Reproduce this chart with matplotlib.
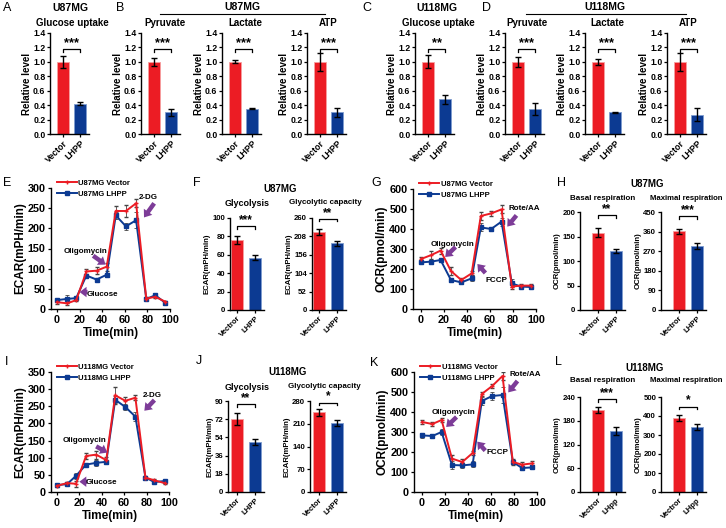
import numpy as np
import matplotlib
matplotlib.use("Agg")
import matplotlib.pyplot as plt

plt.rcParams['font.family'] = ['Liberation Sans', 'DejaVu Sans']
plt.rcParams['font.weight'] = 'bold'
plt.rcParams['axes.labelweight'] = 'bold'
plt.rcParams['axes.linewidth'] = 1.0

W, H = 726, 528
RED = '#EC1C24'
BLUE = '#0C3A92'
PURPLE = '#7D3C98'

# ---- data: top row (relative level) ----
top_labels = ['Vector', 'LHPP']
a_vals, a_errs = [1.0, 0.42], [0.08, 0.02]
b_pyr_vals, b_pyr_errs = [1.0, 0.30], [0.06, 0.05]
b_lac_vals, b_lac_errs = [1.0, 0.35], [0.02, 0.01]
b_atp_vals, b_atp_errs = [1.0, 0.30], [0.12, 0.06]
c_vals, c_errs = [1.0, 0.48], [0.09, 0.06]
d_pyr_vals, d_pyr_errs = [1.0, 0.35], [0.07, 0.08]
d_lac_vals, d_lac_errs = [1.0, 0.30], [0.04, 0.01]
d_atp_vals, d_atp_errs = [1.0, 0.27], [0.12, 0.09]
rel_ticks = [0.0, 0.2, 0.4, 0.6, 0.8, 1.0, 1.2, 1.4]

# ---- data: seahorse time courses ----
t = [0, 9, 17, 26, 35, 44, 52, 61, 70, 79, 87, 96]
e_vec = [17, 14, 22, 93, 95, 105, 243, 243, 262, 26, 30, 18]
e_vec_err = [4, 3, 3, 6, 8, 10, 12, 15, 10, 3, 3, 3]
e_lhpp = [22, 25, 27, 83, 73, 85, 232, 205, 220, 25, 34, 15]
e_lhpp_err = [4, 10, 3, 4, 3, 5, 8, 8, 20, 3, 3, 5]

g_vec = [250, 270, 292, 190, 145, 178, 465, 478, 498, 112, 117, 117]
g_vec_err = [8, 18, 15, 22, 10, 10, 18, 12, 20, 10, 6, 8]
g_lhpp = [233, 237, 245, 145, 133, 153, 408, 400, 437, 128, 112, 110]
g_lhpp_err = [5, 5, 8, 12, 10, 15, 20, 10, 20, 20, 5, 5]

i_vec = [18, 26, 24, 105, 109, 93, 282, 266, 275, 42, 34, 26]
i_vec_err = [3, 4, 8, 10, 12, 8, 25, 12, 8, 5, 5, 4]
i_lhpp = [20, 23, 47, 80, 85, 88, 269, 248, 220, 42, 29, 32]
i_lhpp_err = [2, 4, 8, 5, 8, 5, 10, 10, 12, 5, 4, 4]

k_vec = [350, 340, 360, 167, 150, 195, 490, 530, 580, 150, 137, 143]
k_vec_err = [10, 12, 10, 20, 15, 10, 8, 8, 20, 15, 15, 10]
k_lhpp = [283, 280, 300, 135, 133, 138, 455, 480, 485, 150, 120, 123]
k_lhpp_err = [12, 12, 15, 18, 12, 15, 20, 20, 40, 10, 8, 8]

# ---- data: summary bars ----
f_gly_vals, f_gly_errs = [76, 57], [4, 3]
f_cap_vals, f_cap_errs = [220, 188], [8, 8]
h_bas_vals, h_bas_errs = [158, 120], [10, 4]
h_max_vals, h_max_errs = [362, 295], [12, 14]
j_gly_vals, j_gly_errs = [72, 49], [6, 3]
j_cap_vals, j_cap_errs = [245, 213], [10, 10]
l_bas_vals, l_bas_errs = [207, 155], [8, 10]
l_max_vals, l_max_errs = [390, 342], [15, 15]

fig = plt.figure(figsize=(W / 100, H / 100), dpi=100)


def add_ax(x0, y0, x1, y1):
    ax = fig.add_axes([x0 / W, 1 - y1 / H, (x1 - x0) / W, (y1 - y0) / H])
    ax.spines['top'].set_visible(False)
    ax.spines['right'].set_visible(False)
    return ax


def ftext(x, y, s, size=6.5, **kw):
    fig.text(x / W, 1 - y / H, s, fontsize=size, ha=kw.pop('ha', 'center'),
             va=kw.pop('va', 'center'), **kw)


def bar_panel(ax, vals, errs, labels, ylim, yticks, stars, yb, xl, fs, ylabel, lfs=None):
    ax.bar([0, 1], vals, width=0.7, color=[RED, BLUE],
           edgecolor=['#F7A0A0', '#7F9CD0'], linewidth=0.6)
    ax.errorbar([0, 1], vals, yerr=errs, fmt='none', ecolor='black',
                elinewidth=1.0, capsize=2.4, capthick=1.0)
    ax.set_xlim(xl, 1.5)
    ax.set_ylim(*ylim)
    ax.set_yticks(yticks)
    ax.set_xticks([0, 1])
    ax.set_xticklabels(labels, rotation=45, ha='right', rotation_mode='anchor')
    ax.tick_params(labelsize=fs, length=2.5, width=0.9, pad=1)
    ax.set_ylabel(ylabel, fontsize=lfs or fs, labelpad=1)
    span = ylim[1] - ylim[0]
    d = span * 0.03
    ax.plot([0, 0, 1, 1], [yb - d, yb, yb, yb - d], color='black', lw=0.9,
            clip_on=False)
    ax.text(0.5, yb, stars, ha='center', va='bottom',
            fontsize=fs + 3, clip_on=False)


# ---------------- top row ----------------
top_specs = [
    (63, a_vals, a_errs, '***'),
    (154, b_pyr_vals, b_pyr_errs, '***'),
    (235, b_lac_vals, b_lac_errs, '***'),
    (320, b_atp_vals, b_atp_errs, '***'),
    (428, c_vals, c_errs, '**'),
    (518, d_pyr_vals, d_pyr_errs, '***'),
    (598, d_lac_vals, d_lac_errs, '***'),
    (680, d_atp_vals, d_atp_errs, '***'),
]
for cx, v, e, s in top_specs:
    ax = add_ax(cx - 0.75 * 17, 33, cx + 1.5 * 17, 134)
    bar_panel(ax, v, e, top_labels, (0, 1.4), rel_ticks, s, 1.18, -0.75, 6.3,
              'Relative level', 7)
    ax.yaxis.set_major_formatter(matplotlib.ticker.FormatStrFormatter('%.1f'))

for x, s in [(7, 'A'), (120, 'B'), (367, 'C'), (487, 'D')]:
    ftext(x, 8, s, size=9, weight='normal')
ftext(70, 8, 'U87MG', 7.5)
ftext(72, 23, 'Glucose uptake', 7)
ftext(242, 7, 'U87MG', 7.5)
fig.add_artist(plt.Line2D([160 / W, 325 / W], [1 - 14 / H] * 2, color='black', lw=0.8))
ftext(165, 23, 'Pyruvate', 7)
ftext(245, 23, 'Lactate', 7)
ftext(328, 23, 'ATP', 7)
ftext(437, 8, 'U118MG', 7.5)
ftext(438, 23, 'Glucose uptake', 7)
ftext(605, 7, 'U118MG', 7.5)
fig.add_artist(plt.Line2D([526 / W, 686 / W], [1 - 14 / H] * 2, color='black', lw=0.8))
ftext(527, 23, 'Pyruvate', 7)
ftext(607, 23, 'Lactate', 7)
ftext(688, 23, 'ATP', 7)


# ---------------- time course panels ----------------
def line_panel(ax, vec, vec_err, lhpp, lhpp_err, names, ylim, yticks, ylabel, xl):
    ax.errorbar(t, lhpp, yerr=lhpp_err, color=BLUE, ecolor='#444444', lw=1.4,
                marker='s', ms=2.2, elinewidth=0.6, capsize=1.4, capthick=0.6)
    ax.errorbar(t, vec, yerr=vec_err, color=RED, ecolor='#444444', lw=1.4,
                marker='+', ms=3.5, mew=1.0, elinewidth=0.6, capsize=1.4, capthick=0.6)
    h1, = ax.plot([], [], color=RED, lw=1.4, marker='+', ms=3.5, mew=1.0)
    h2, = ax.plot([], [], color=BLUE, lw=1.4, marker='s', ms=2.2)
    ax.legend([h1, h2], names, loc='upper left', bbox_to_anchor=(0.05, 1.07),
              frameon=False, fontsize=5.5, handlelength=2.6, handletextpad=0.2,
              labelspacing=0.45, borderpad=0, borderaxespad=0)
    ax.set_xlim(xl, 100)
    ax.set_ylim(*ylim)
    ax.set_xticks([0, 20, 40, 60, 80, 100])
    ax.set_yticks(yticks)
    ax.tick_params(labelsize=7.8, length=2.5, width=0.9, pad=1.5)
    ax.set_ylabel(ylabel, fontsize=8.5, labelpad=1)
    ax.set_xlabel('Time(min)', fontsize=8.5, labelpad=2)


def arrow(ax, tail, head, text=None, tpos=None, ha='center'):
    ax.annotate('', xy=head, xytext=tail,
                arrowprops=dict(arrowstyle='simple,head_length=0.5,head_width=0.75,tail_width=0.32',
                                color=PURPLE, lw=0, shrinkA=0, shrinkB=0))
    if text:
        ax.text(tpos[0], tpos[1], text, fontsize=5.8, ha=ha, va='center')


ecar_ticks = [0, 50, 100, 150, 200, 250, 300]
ax = add_ax(51, 188, 170, 309)
line_panel(ax, e_vec, e_vec_err, e_lhpp, e_lhpp_err,
           ['U87MG Vector', 'U87MG LHPP'], (0, 300), ecar_ticks,
           'ECAR(mPH/min)', -5.3)
arrow(ax, (32, 132), (43, 110), 'Oligomycin', (25, 143))
arrow(ax, (86, 262), (77, 227), '2-DG', (81, 276))
arrow(ax, (27, 42), (20, 42), 'Glucose', (26, 37), ha='left')

ocr_ticks = [0, 100, 200, 300, 400, 500, 600]
ax = add_ax(413, 189, 536, 309)
line_panel(ax, g_vec, g_vec_err, g_lhpp, g_lhpp_err,
           ['U87MG Vector', 'U87MG LHPP'], (0, 600), ocr_ticks,
           'OCR(pmol/min)', -7)
arrow(ax, (30, 310), (21, 260), 'Oligomycin', (27, 325))
arrow(ax, (56, 180), (49, 225), 'FCCP', (66, 140))
arrow(ax, (83, 468), (75, 412), 'Rote/AA', (90, 500))

ax = add_ax(51, 372, 169, 492)
line_panel(ax, i_vec, i_vec_err, i_lhpp, i_lhpp_err,
           ['U118MG Vector', 'U118MG LHPP'], (0, 350),
           [0, 50, 100, 150, 200, 250, 300, 350], 'ECAR(mPH/min)', -5.3)
arrow(ax, (35, 133), (45, 115), 'Oligomycin', (25, 150))
arrow(ax, (87, 268), (78, 237), '2-DG', (85, 282))
arrow(ax, (27, 30), (20, 30), 'Glucose', (26, 27), ha='left')

ax = add_ax(414, 372, 537, 492)
line_panel(ax, k_vec, k_vec_err, k_lhpp, k_lhpp_err,
           ['U118MG Vector', 'U118MG LHPP'], (0, 600), ocr_ticks,
           'OCR(pmol/min)', -7)
arrow(ax, (30, 375), (21, 325), 'Oligomycin', (27, 400))
arrow(ax, (55, 207), (48, 252), 'FCCP', (66, 198))
arrow(ax, (83, 555), (75, 498), 'Rote/AA', (90, 590))

# ---------------- summary bar panels ----------------
vt_labels = ['Vectror', 'LHPP']
ecar_lab = 'ECAR(mPH/min)'
ocr_lab = 'OCR(pmol/min)'
bfs = 5.6

ax = add_ax(237 - 0.4 * 18, 218, 237 + 1.5 * 18, 310)
bar_panel(ax, f_gly_vals, f_gly_errs, vt_labels, (0, 100), [0, 20, 40, 60, 80, 100],
          '***', 91, -0.4, bfs, ecar_lab)
ax = add_ax(319 - 0.4 * 18, 218, 319 + 1.5 * 18, 310)
bar_panel(ax, f_cap_vals, f_cap_errs, vt_labels, (0, 260), [0, 52, 104, 156, 208, 260],
          '**', 258, -0.4, bfs, ecar_lab)
ax = add_ax(598 - 18, 212, 598 + 1.5 * 18, 310)
bar_panel(ax, h_bas_vals, h_bas_errs, vt_labels, (0, 200), [0, 50, 100, 150, 200],
          '**', 194, -1.0, bfs, ocr_lab)
ax = add_ax(679 - 18, 212, 679 + 1.5 * 18, 310)
bar_panel(ax, h_max_vals, h_max_errs, vt_labels, (0, 450), [0, 90, 180, 270, 360, 450],
          '***', 431, -1.0, bfs, ocr_lab)

ax = add_ax(237 - 0.5 * 18, 401, 237 + 1.5 * 18, 492)
bar_panel(ax, j_gly_vals, j_gly_errs, ['Vector', 'LHPP'], (0, 90), [0, 18, 36, 54, 72, 90],
          '**', 87, -0.5, bfs, ecar_lab)
ax = add_ax(319 - 0.5 * 18, 401, 319 + 1.5 * 18, 492)
bar_panel(ax, j_cap_vals, j_cap_errs, ['Vector', 'LHPP'], (0, 280), [0, 70, 140, 210, 280],
          '*', 275, -0.5, bfs, ecar_lab)
ax = add_ax(598 - 18, 397, 598 + 1.5 * 18, 492)
bar_panel(ax, l_bas_vals, l_bas_errs, ['Vectror', 'LHpp'], (0, 240), [0, 60, 120, 180, 240],
          '***', 235, -1.0, bfs, ocr_lab)
ax = add_ax(679 - 18, 397, 679 + 1.5 * 18, 492)
bar_panel(ax, l_max_vals, l_max_errs, ['Vectror', 'LHpp'], (0, 500), [0, 100, 200, 300, 400, 500],
          '*', 450, -1.0, bfs, ocr_lab)

ftext(280, 189, 'U87MG', 7)
ftext(247, 203, 'Glycolysis', 6.5)
ftext(325, 203, 'Glycolytic capacity', 5.8)
ftext(647, 184, 'U87MG', 7)
ftext(603, 198, 'Basal respiration', 5.8)
ftext(686, 198, 'Maximal respiration', 5.6)
ftext(288, 372, 'U118MG', 7)
ftext(247, 387, 'Glycolysis', 6.5)
ftext(324, 387, 'Glycolytic capacity', 5.8)
ftext(645, 368, 'U118MG', 7)
ftext(603, 381, 'Basal respiration', 5.8)
ftext(686, 381, 'Maximal respiration', 5.6)

for x, y, s in [(7, 183, 'E'), (197, 183, 'F'), (376, 183, 'G'), (561, 183, 'H'),
                (7, 362, 'I'), (199, 361, 'J'), (374, 363, 'K'), (558, 362, 'L')]:
    ftext(x, y, s, size=9, weight='normal')

fig.savefig('out.png', dpi=100)
